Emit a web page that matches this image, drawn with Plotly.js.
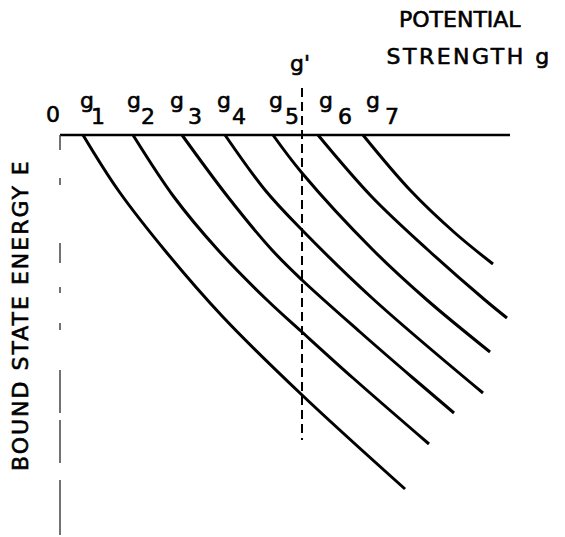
<!DOCTYPE html>
<html>
<head>
<meta charset="utf-8">
<script src="https://cdn.plot.ly/plotly-3.0.1.min.js"></script>
<style>
  html, body { margin: 0; padding: 0; background: #fff; }
  #chart { width: 565px; height: 537px; }
  .annotation-text { stroke: #000; stroke-width: 0.6px; }
</style>
</head>
<body>
<div id="chart"></div>
<script>
// Potential strength g (horizontal, arbitrary units) vs bound state energy E (downward, arbitrary units)
const levelNames = ["g1", "g2", "g3", "g4", "g5", "g6", "g7"];

const g1_g = [0.511, 1.289, 2.378, 3.622, 5.378, 7.667];
const g1_E = [0, -1.375, -2.95, -4.55, -6.50, -8.85];

const g2_g = [1.622, 2.533, 3.511, 4.600, 5.378, 6.511, 8.200];
const g2_E = [0, -1.55, -2.875, -4.125, -4.925, -6.075, -7.725];

const g3_g = [2.711, 3.733, 4.711, 5.378, 6.667, 7.844, 8.756];
const g3_E = [0, -1.55, -2.875, -3.625, -4.925, -6.075, -6.95];

const g4_g = [3.667, 4.556, 5.378, 6.933, 9.400];
const g4_E = [0, -1.375, -2.375, -4.075, -6.45];

const g5_g = [4.733, 5.378, 6.956, 8.156, 9.556];
const g5_E = [0, -0.95, -2.875, -4.125, -5.425];

const g6_g = [5.733, 6.933, 8.178, 9.444, 9.933];
const g6_E = [0, -1.55, -2.875, -4.125, -4.575];

const g7_g = [6.733, 7.778, 8.778, 9.622];
const g7_E = [0, -1.375, -2.45, -3.225];

const gPrime = 5.378;              // g' (dashed vertical)
const gPrimeE = [1.175, -7.625];   // extent of dashed line
const gAxisEnd = 10.0;             // end of strength axis
const eAxisEnd = -10.0;            // end of energy axis

const seriesG = [g1_g, g2_g, g3_g, g4_g, g5_g, g6_g, g7_g];
const seriesE = [g1_E, g2_E, g3_E, g4_E, g5_E, g6_E, g7_E];

const FONT = "DejaVu Sans, Liberation Sans, sans-serif";
const W = 565, H = 537;
function px(x) { return x / W; }
function py(y) { return 1 - y / H; }

const traces = [];
traces.push({x: [0, gAxisEnd], y: [0, 0], mode: "lines",
  line: {color: "#000", width: 2.5}, hoverinfo: "skip", showlegend: false});
traces.push({x: [0, 0], y: [0, eAxisEnd], mode: "lines",
  line: {color: "#444", width: 1.5,
    dash: "15px,28px,7px,58px,20px,24px,6px,30px,7px,40px,43px,7px,43px,17px,60px"},
  hoverinfo: "skip", showlegend: false});
seriesG.forEach((gx, i) => {
  traces.push({x: gx, y: seriesE[i], mode: "lines", name: levelNames[i],
    line: {color: "#000", width: 3, shape: "spline", smoothing: 1},
    hoverinfo: "skip", showlegend: false});
});
traces.push({x: [gPrime, gPrime], y: gPrimeE, mode: "lines",
  line: {color: "#000", width: 2, dash: "9px,5px"}, hoverinfo: "skip", showlegend: false});

const ann = [];
function T(text, x, y, size, opts) {
  ann.push(Object.assign({text: text, xref: "paper", yref: "paper", x: px(x), y: py(y),
    xanchor: "center", yanchor: "middle", showarrow: false,
    font: {family: FONT, size: size, color: "#000"}}, opts || {}));
}
T("0", 53, 114, 22);
const gLabelX = [87, 134, 177, 224, 276, 326, 373];
const subX = [98, 148, 195, 239, 292, 345, 392];
for (let i = 0; i < 7; i++) {
  T("g", gLabelX[i], 101, 22);
  T(String(i + 1), subX[i], 116, 22);
}
T("g'", 300, 64, 22);
T("POTENTIAL", 397, 20, 22, {xanchor: "left"});
T("STRENGTH g", 397, 56, 22, {xanchor: "left"});
T("BOUND STATE ENERGY E", 20, 315, 22, {textangle: -90});

const layout = {
  width: W, height: H,
  margin: {l: 0, r: 0, t: 0, b: 0},
  paper_bgcolor: "#fff", plot_bgcolor: "#fff",
  xaxis: {range: [-60 / 45, 505 / 45], visible: false, fixedrange: true},
  yaxis: {range: [-(H - 135) / 40, 135 / 40], visible: false, fixedrange: true},
  annotations: ann,
  showlegend: false
};

Plotly.newPlot("chart", traces, layout, {staticPlot: true, displayModeBar: false}).then(() => {
  document.querySelectorAll(".annotation-text").forEach(el => {
    const t = el.textContent;
    if (t === "STRENGTH g") el.style.letterSpacing = "2.5px";
    else if (t === "BOUND STATE ENERGY E") el.style.letterSpacing = "2px";
  });
});
</script>
</body>
</html>
